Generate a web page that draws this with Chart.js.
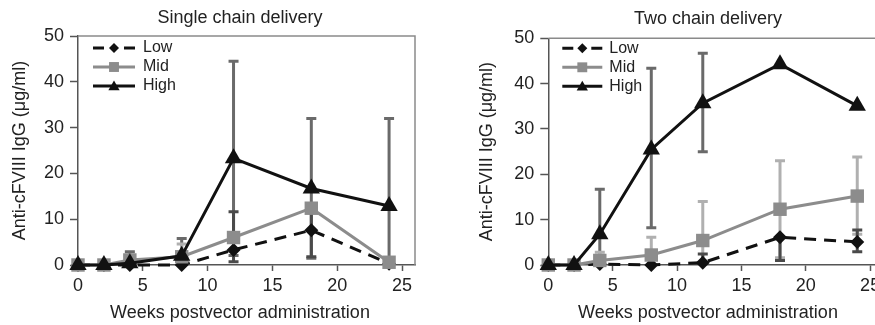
<!DOCTYPE html>
<html><head><meta charset="utf-8">
<script src="https://cdn.jsdelivr.net/npm/chart.js@4"></script>
<style>
html,body{margin:0;padding:0;background:#fff;}
#wrap{position:relative;width:875px;height:325px;overflow:hidden;background:#fff;}
canvas{position:absolute;top:0;}
#c1{left:0;} #c2{left:435px;}
</style></head><body>
<div id="wrap"><canvas id="c1" width="480" height="325"></canvas><canvas id="c2" width="546" height="325"></canvas></div>
<script>
// ---- data ----
const weeks = [0, 2, 4, 8, 12, 18, 24];
const xTicks = [0, 5, 10, 15, 20, 25];
const yTicks = [0, 10, 20, 30, 40, 50];
const seriesNames = ['Low', 'Mid', 'High'];
const chartTitles = ['Single chain delivery', 'Two chain delivery'];
const xTitle = 'Weeks postvector administration';
const yTitle = 'Anti-cFVIII IgG (\u03bcg/ml)';

// Single chain delivery
const singleLow  = [0, 0, 0, 0, 3.3, 7.6, 0.3];
const singleMid  = [0, 0, 1.1, 1.8, 6.0, 12.4, 0.6];
const singleHigh = [0, 0, 0.4, 2.0, 23.3, 16.7, 12.9];
// error bar ranges [lower, upper]
const singleLowErr  = [null, null, null, null, [0.7, 11.6], [1.8, 13.4], null];
const singleMidErr  = [null, null, null, [-1.0, 4.6], null, null, null];
const singleHighErr = [null, null, [-2.1, 2.9], [-1.8, 5.8], [2.1, 44.5], [1.5, 32.0], [-6.2, 32.0]];

// Two chain delivery
const twoLow  = [0, 0, 0.2, 0, 0.5, 6.1, 5.1];
const twoMid  = [0, 0, 1.0, 2.2, 5.4, 12.3, 15.2];
const twoHigh = [0, 0, 6.8, 25.5, 35.7, 44.3, 35.1];
const twoLowErr  = [null, null, null, null, [-0.9, 2.4], [1.0, 6.1], [2.9, 7.7]];
const twoMidErr  = [null, null, [-0.8, 2.8], [-1.7, 6.1], [-3.2, 14.0], [1.6, 23.0], [6.8, 23.8]];
const twoHighErr = [null, null, [-3.1, 16.7], [8.2, 43.4], [25.0, 46.7], null, null];

// ---- styling ----
const FONT = "'Liberation Sans', Arial, Helvetica, sans-serif";
const TXT = '#222';
const AX = '#555';
const styles = [
  {color: '#111', dash: [12, 8], point: 'rectRot', r: 7, lr: 5, err: '#4a4a4a'},
  {color: '#8c8c8c', dash: [], point: 'rect', r: 9.5, lr: 7, err: '#b0b0b0'},
  {color: '#111', dash: [], point: 'triangle', r: 10, lr: 6.5, err: '#6a6a6a'}
];

function drawMarker(ctx, style, x, y, r, color) {
  ctx.fillStyle = color;
  ctx.beginPath();
  if (style === 'rectRot') {
    ctx.moveTo(x, y - r); ctx.lineTo(x + r, y); ctx.lineTo(x, y + r); ctx.lineTo(x - r, y);
  } else if (style === 'rect') {
    const s = r * Math.SQRT1_2;
    ctx.rect(x - s, y - s, 2 * s, 2 * s);
  } else {
    ctx.moveTo(x, y - r); ctx.lineTo(x + r * 0.866, y + r * 0.5); ctx.lineTo(x - r * 0.866, y + r * 0.5);
  }
  ctx.closePath();
  ctx.fill();
}

function makeChart(id, title, series, errs, lay) {
  const errPlugin = {
    id: 'errbars',
    beforeDatasetsDraw(chart) {
      const {ctx, chartArea: a, scales: {x, y}} = chart;
      // plot frame (top & right)
      ctx.save();
      ctx.strokeStyle = '#8a8a8a';
      ctx.lineWidth = 1.5;
      ctx.beginPath();
      ctx.moveTo(a.left, a.top); ctx.lineTo(a.right, a.top); ctx.lineTo(a.right, a.bottom);
      ctx.stroke();
      ctx.restore();
      ctx.save();
      ctx.beginPath();
      ctx.rect(a.left - 20, a.top - 20, a.right - a.left + 40, a.bottom - a.top + 20);
      ctx.clip();
      [2, 1, 0].forEach(si => {
        ctx.strokeStyle = styles[si].err;
        ctx.lineWidth = 3;
        errs[si].forEach((rg, i) => {
          if (!rg) return;
          const px = x.getPixelForValue(weeks[i]);
          const y0 = Math.min(y.getPixelForValue(rg[0]), a.bottom + 0.5);
          const y1 = y.getPixelForValue(rg[1]);
          ctx.beginPath();
          ctx.moveTo(px, y0); ctx.lineTo(px, y1);
          ctx.moveTo(px - 5, y1); ctx.lineTo(px + 5, y1);
          if (rg[0] >= 0) { ctx.moveTo(px - 5, y0); ctx.lineTo(px + 5, y0); }
          ctx.stroke();
        });
      });
      ctx.restore();
    },
    afterDraw(chart) {
      const {ctx, chartArea: a} = chart;
      ctx.save();
      seriesNames.forEach((name, si) => {
        const st = styles[si];
        const yy = a.top + lay.rows[si];
        const x0 = a.left + lay.dx, x1 = x0 + lay.len;
        ctx.strokeStyle = st.color;
        ctx.lineWidth = 3;
        ctx.beginPath();
        if (si === 0) {
          ctx.moveTo(x0, yy); ctx.lineTo(x0 + 11, yy);
          ctx.moveTo(x1 - 11, yy); ctx.lineTo(x1, yy);
        } else {
          ctx.moveTo(x0, yy); ctx.lineTo(x1, yy);
        }
        ctx.stroke();
        drawMarker(ctx, st.point, (x0 + x1) / 2, yy + (st.point === 'triangle' ? 1 : 0), st.lr, st.color);
        ctx.fillStyle = TXT;
        ctx.font = '16px ' + FONT;
        ctx.textBaseline = 'middle';
        ctx.textAlign = 'left';
        ctx.fillText(name, a.left + lay.tx, yy);
      });
      ctx.restore();
    }
  };

  const datasets = seriesNames.map((name, si) => ({
    label: name,
    data: weeks.map((w, i) => ({x: w, y: series[si][i]})),
    borderColor: styles[si].color,
    backgroundColor: styles[si].color,
    borderWidth: 3,
    borderDash: styles[si].dash,
    pointStyle: styles[si].point,
    pointRadius: styles[si].r,
    pointBorderWidth: 0,
    pointBackgroundColor: styles[si].color,
    pointBorderColor: styles[si].color,
    tension: 0,
    clip: false,
    order: 2 - si
  }));

  return new Chart(document.getElementById(id), {
    type: 'line',
    data: {datasets},
    plugins: [errPlugin],
    options: {
      responsive: false,
      animation: false,
      devicePixelRatio: 1,
      layout: {padding: {left: lay.padLeft, right: 0, top: 0, bottom: 0}},
      plugins: {
        legend: {display: false},
        tooltip: {enabled: false},
        title: {display: true, text: title, color: TXT, font: {family: FONT, size: 18, weight: 'normal'},
                padding: {top: lay.titleTop, bottom: lay.titleBottom}},
        subtitle: {display: true, position: 'bottom', text: xTitle, color: TXT,
                   font: {family: FONT, size: 18, weight: 'normal'}, padding: {top: 9.2, bottom: 1.2}}
      },
      scales: {
        x: {
          type: 'linear', min: 0, max: 26,
          afterBuildTicks: ax => { ax.ticks = xTicks.map(v => ({value: v})); },
          afterFit: s => { s.height = 28; },
          grid: {display: true, drawOnChartArea: false, drawTicks: true, tickLength: 6, tickColor: AX, tickWidth: 1.5},
          border: {display: true, color: AX, width: 1.5},
          ticks: {color: TXT, font: {family: FONT, size: 18}, padding: 4, maxRotation: 0, autoSkip: false}
        },
        y: {
          type: 'linear', min: 0, max: 50, position: 'left',
          afterBuildTicks: ax => { ax.ticks = yTicks.map(v => ({value: v})); },
          afterFit: s => { s.width = lay.yWidth; },
          grid: {display: true, drawOnChartArea: false, drawTicks: true, tickLength: 8, tickColor: AX, tickWidth: 1.5},
          border: {display: true, color: AX, width: 1.5},
          ticks: {color: TXT, font: {family: FONT, size: 18}, padding: 6},
          title: {display: true, text: yTitle, color: TXT, font: {family: FONT, size: 18}, padding: {top: lay.yTitlePad, bottom: 0}}
        },
        yr: {
          type: 'linear', position: 'right', display: true,
          afterFit: s => { s.width = lay.rightW; },
          grid: {display: false}, border: {display: false}, ticks: {display: false}
        }
      }
    }
  });
}

makeChart('c1', chartTitles[0], [singleLow, singleMid, singleHigh], [singleLowErr, singleMidErr, singleHighErr],
  {padLeft: 0, yWidth: 78, yTitlePad: 9.5, rightW: 65, titleTop: 7, titleBottom: 7.4,
   dx: 15, len: 42, tx: 65, rows: [12, 31, 50]});
makeChart('c2', chartTitles[1], [twoLow, twoMid, twoHigh], [twoLowErr, twoMidErr, twoHighErr],
  {padLeft: 0, yWidth: 113.3, yTitlePad: 41.7, rightW: 98, titleTop: 8, titleBottom: 8.7,
   dx: 14, len: 40, tx: 61, rows: [10, 29, 48]});
</script>
</body></html>
